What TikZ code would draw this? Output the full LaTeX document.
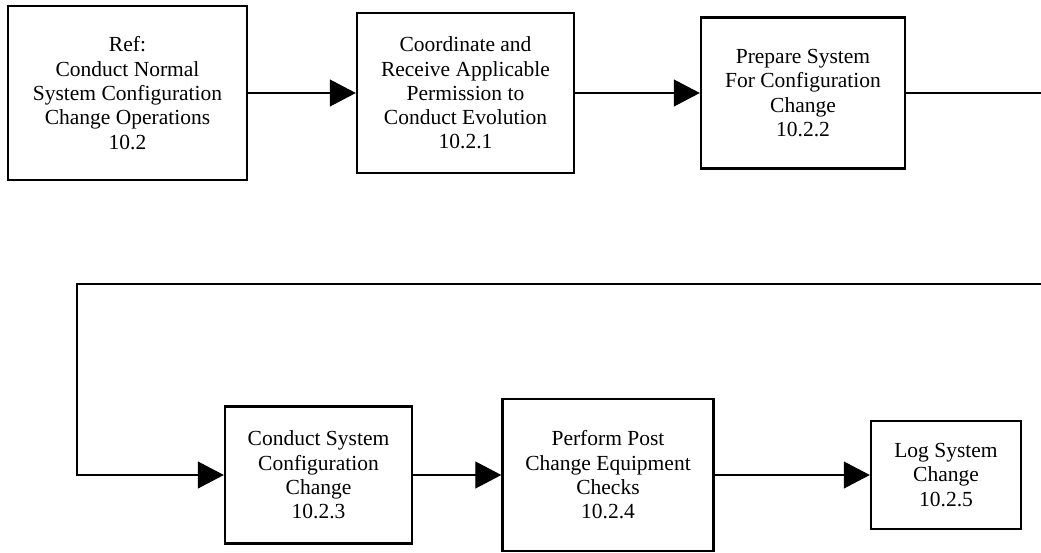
\documentclass[tikz,border=0pt]{standalone}
\usepackage{fontspec}
\setmainfont{Liberation Serif}
\usetikzlibrary{arrows.meta}

\tikzset{
  stepbox/.style={draw=black, line width=2.4pt, fill=white, rectangle,
    inner sep=0pt, align=center, font=\fontsize{21.5}{24.3}\selectfont},
  flow/.style={draw=black, line width=1.1pt},
  flowarrow/.style={flow, -{Triangle[length=26pt,width=27pt]}}
}

\begin{document}
\begin{tikzpicture}[x=1pt, y=-1pt]
  \useasboundingbox[fill=white] (0,0) rectangle (1041,552);

  % upper row
  \node[stepbox, minimum width=239pt, minimum height=174pt] (b1) at (127.5,93)
    {Ref:\\Conduct Normal\\System Configuration\\Change Operations\\10.2};
  \node[stepbox, minimum width=217pt, minimum height=160pt] (b2) at (465.5,93)
    {Coordinate and\\Receive Applicable\\Permission to\\Conduct Evolution\\10.2.1};
  \node[stepbox, minimum width=204pt, minimum height=151pt] (b3) at (803,93)
    {Prepare System\\For Configuration\\Change\\10.2.2};

  % lower row
  \node[stepbox, minimum width=187pt, minimum height=137pt] (b4) at (318.5,475)
    {Conduct System\\Configuration\\Change\\10.2.3};
  \node[stepbox, minimum width=211pt, minimum height=152pt] (b5) at (608,475)
    {Perform Post\\Change Equipment\\Checks\\10.2.4};
  \node[stepbox, minimum width=150pt, minimum height=108pt] (b6) at (946,475)
    {Log System\\Change\\10.2.5};

  % continuation points at the right edge and the bend on the left
  \coordinate (r1) at (1041,93);
  \coordinate (r2) at (1041,284);
  \coordinate (c1) at (77,284);

  % connectors
  \draw[flowarrow] (b1) -- (b2);
  \draw[flowarrow] (b2) -- (b3);
  \draw[flow] (b3.east) -- (r1);
  \draw[flowarrow] (r2) -- (c1) |- (b4.west);
  \draw[flowarrow] (b4) -- (b5);
  \draw[flowarrow] (b5) -- (b6);
\end{tikzpicture}
\end{document}
